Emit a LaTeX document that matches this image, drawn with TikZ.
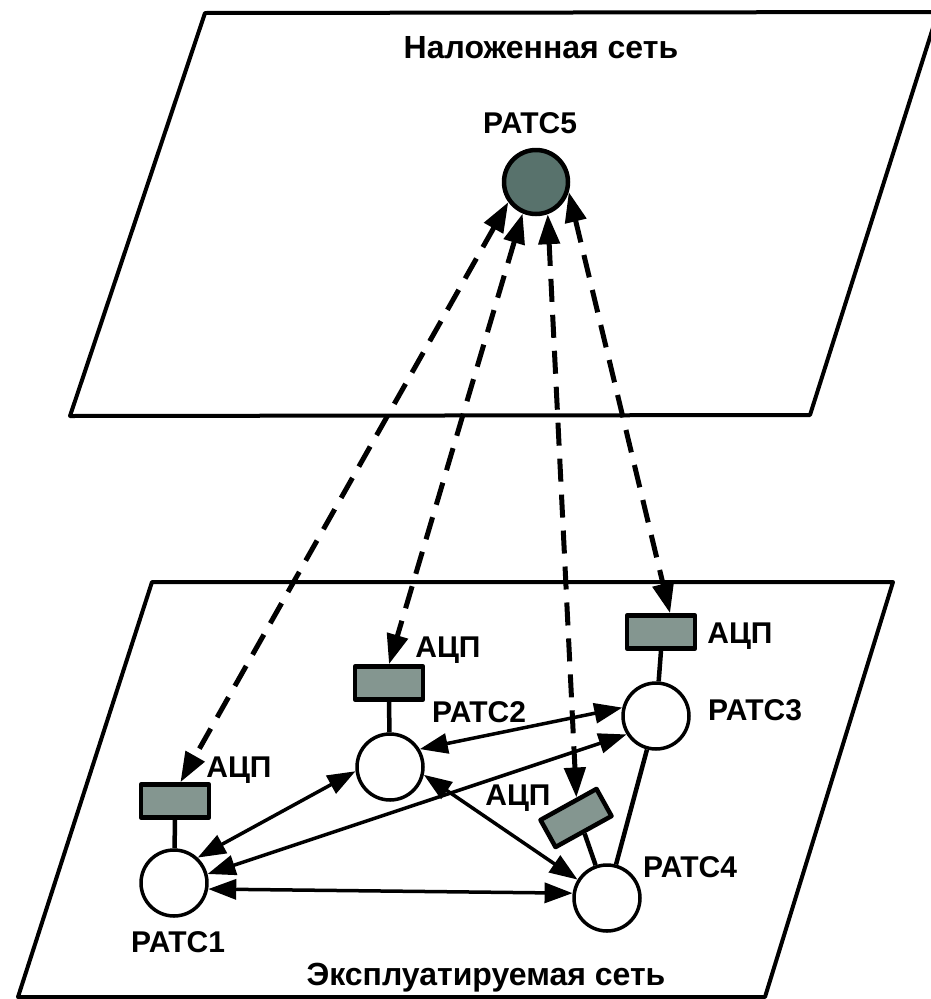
\documentclass[tikz,border=0pt]{standalone}
\usepackage{fontspec}
\setmainfont{Liberation Sans}
\usetikzlibrary{arrows.meta,calc}
\definecolor{adcfill}{RGB}{132,150,144}
\definecolor{hubfill}{RGB}{88,114,108}

\begin{document}
\begin{tikzpicture}[x=1pt, y=-1pt, line join=round,
  font=\fontsize{30}{36}\selectfont\bfseries,
  plane/.style={line width=4pt},
  atc/.style={circle, draw, line width=3.5pt, fill=white, minimum size=66pt, inner sep=0pt},
  adc/.style={rectangle, draw, line width=4.5pt, fill=adcfill, minimum width=68pt, minimum height=33pt, inner sep=0pt},
  link/.style={line width=3.5pt, {Triangle[length=28pt,width=20pt]}-{Triangle[length=28pt,width=20pt]}},
  trunk/.style={line width=5pt, dash pattern=on 23pt off 13pt, {Triangle[length=30pt,width=21pt]}-{Triangle[length=30pt,width=21pt]}},
  tap/.style={line width=4.5pt},
  lbl/.style={anchor=base, inner sep=0pt},
  title/.style={lbl, font=\fontsize{32}{38}\selectfont\bfseries}]
  \useasboundingbox (0,0) rectangle (930,999);
  % planes
  \draw[plane] (205,13) -- (938,12) -- (810,415) -- (70,416) -- cycle;
  \draw[plane] (152,582) -- (893,582) -- (765,997) -- (18,997) -- cycle;
  \node[title] (ttop) at (541,58) {Наложенная сеть};
  \node[title] (tbot) at (486,985) {Эксплуатируемая сеть};
  % overlay exchange
  \node[atc, fill=hubfill, line width=4.5pt, minimum size=64pt] (p5) at (536,182) {};
  \node[lbl] (lp5) at (530,133) {PATC5};
  % exchanges of the operated network
  \node[atc] (r1) at (174,883) {};
  \node[atc] (r2) at (390,767) {};
  \node[atc] (r3) at (656,716) {};
  \node[atc] (r4) at (607,898) {};
  \node[lbl] (lr1) at (178,952) {PATC1};
  \node[lbl] (lr2) at (479,722) {PATC2};
  \node[lbl] (lr3) at (755,720) {PATC3};
  \node[lbl] (lr4) at (690,877) {PATC4};
  % converters
  \node[adc] (b1) at (175,801) {};
  \node[adc] (b2) at (389,683) {};
  \node[adc] (b3) at (661,632) {};
  \node[adc, rotate=29, minimum width=64pt, minimum height=31pt] (b4) at (576,818) {};
  \node[lbl] (lb1) at (239,777) {АЦП};
  \node[lbl] (lb2) at (448,657) {АЦП};
  \node[lbl] (lb3) at (740,643) {АЦП};
  \node[lbl] (lb4) at (518,805) {АЦП};
  \draw[tap] (b1.south) -- (r1);
  \draw[tap] (b2.south) -- (r2);
  \draw[tap] (b3.south) -- (r3);
  \draw[tap] (b4.south) -- (r4);
  \draw[tap] (r3) -- (r4);
  % links between exchanges
  \draw[link] (r1.47) -- (r2.187);
  \draw[link] (r1.15) -- (r3.212);
  \draw[link] (r1.-10) -- (r4.172);
  \draw[link] (r2.31) -- (r3.166);
  \draw[link] (r2.-13) -- (r4.148);
  % trunks to the overlay
  \coordinate (e1) at ($(b1.north)!0.15!(b1.north east)$);
  \coordinate (e3) at ($(b3.north)!0.25!(b3.north east)$);
  \coordinate (e4) at ($(b4.north)!0.3!(b4.north east)$);
  \draw[trunk] (p5.216) -- (e1);
  \draw[trunk] (p5.247) -- (b2.north);
  \draw[trunk] (p5.290) -- (e4);
  \draw[trunk] (p5.343) -- (e3);
\end{tikzpicture}
\end{document}
